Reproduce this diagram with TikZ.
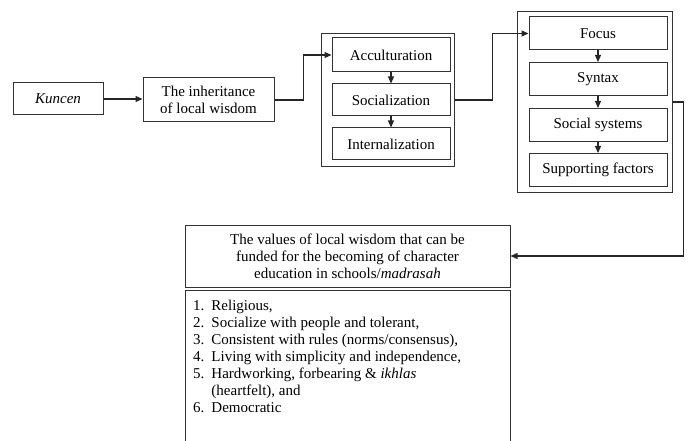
\documentclass[tikz,border=0pt]{standalone}
\usepackage{fontspec}
\setmainfont{Liberation Serif}
\usetikzlibrary{arrows.meta}

\begin{document}
\begin{tikzpicture}[x=1pt, y=-1pt, >={Triangle[length=7pt,width=6pt]},
    every node/.style={font=\fontsize{15}{17}\selectfont, inner sep=0pt},
    framebox/.style={draw=black!80, line width=1pt, align=center},
    groupbox/.style={draw=black!80, line width=1pt},
    link/.style={->, draw=black!85, line width=1.2pt}]
    \useasboundingbox (0,0) rectangle (688,441);

    \node[framebox, minimum width=90pt, minimum height=32pt] (kuncen) at (58,99) {\textit{Kuncen}};
    \node[framebox, minimum width=131pt, minimum height=44pt] (inherit) at (208.5,100) {The inheritance\\of local wisdom};

    \node[groupbox, minimum width=133pt, minimum height=132pt] (accgroup) at (387.5,100) {};
    \node[framebox, minimum width=118pt, minimum height=34pt] (accult) at (391,55) {Acculturation};
    \node[framebox, minimum width=118pt, minimum height=32pt] (social) at (391,100) {Socialization};
    \node[framebox, minimum width=118pt, minimum height=32pt] (intern) at (391,144) {Internalization};

    \node[groupbox, minimum width=155pt, minimum height=180pt] (focgroup) at (594.5,102) {};
    \node[framebox, minimum width=138pt, minimum height=33pt] (focus) at (598,33.5) {Focus};
    \node[framebox, minimum width=138pt, minimum height=33pt] (syntax) at (598,79) {Syntax};
    \node[framebox, minimum width=138pt, minimum height=33pt] (socsys) at (598,125) {Social systems};
    \node[framebox, minimum width=138pt, minimum height=33pt] (support) at (598,170) {Supporting factors};

    \node[framebox, minimum width=325pt, minimum height=62pt] (values) at (347.5,256)
        {The values of local wisdom that can be\\funded for the becoming of character\\education in schools/\textit{madrasah}};
    \node[groupbox, minimum width=325pt, minimum height=170pt, anchor=north west] (list) at (185,290) {};
    \node[anchor=north west, align=left] (items) at (193,298) {%
        \begin{tabular}{@{}r@{\hspace{7pt}}l@{}}
        1. & Religious,\\
        2. & Socialize with people and tolerant,\\
        3. & Consistent with rules (norms/consensus),\\
        4. & Living with simplicity and independence,\\
        5. & Hardworking, forbearing \& \textit{ikhlas}\\
           & (heartfelt), and\\
        6. & Democratic
        \end{tabular}};

    \draw[link] (kuncen.east) -- (kuncen.east -| inherit.west);
    \draw[link] (inherit.east) -- ++(29,0) |- (accult.west);
    \draw[link] (accgroup.east) -- ++(38,0) |- (focus.west);
    \draw[link] (focgroup.east) -- ++(11,0) |- (values.east);

    \draw[link] (accult) -- (social);
    \draw[link] (social) -- (intern);
    \draw[link] (focus) -- (syntax);
    \draw[link] (syntax) -- (socsys);
    \draw[link] (socsys) -- (support);
\end{tikzpicture}
\end{document}
